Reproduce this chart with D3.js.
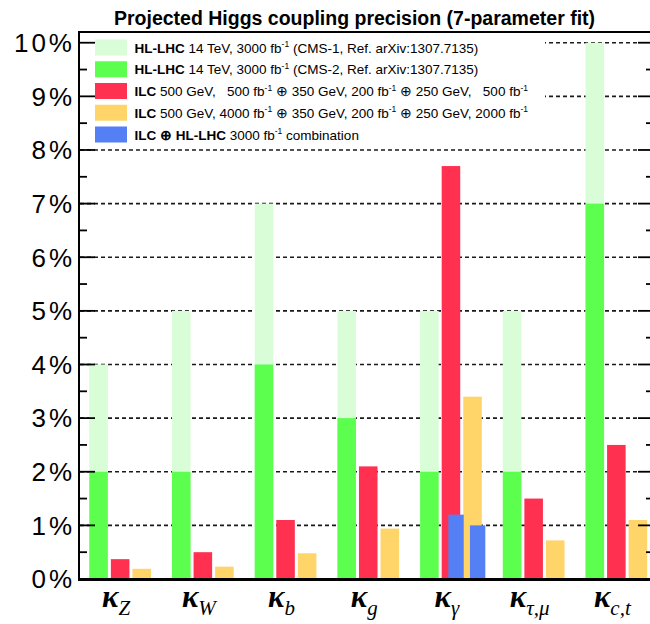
<!DOCTYPE html>
<html>
<head>
<meta charset="utf-8">
<script src="https://cdn.jsdelivr.net/npm/d3@7"></script>
<style>
  html, body { margin: 0; padding: 0; background: #fff; }
  svg { display: block; }
  text { font-family: "Liberation Sans", Arial, Helvetica, sans-serif; }
</style>
</head>
<body>
<svg id="chart" width="650" height="624"></svg>
<script>
// ---------------- data ----------------
const categories = ["kZ", "kW", "kb", "kg", "kgamma", "ktaumu", "kct"];
const labelSubs  = ["Z", "W", "b", "g", "γ", "τ,μ", "c,t"];
const hlLhcCms1  = [4, 5, 7, 5, 5, 5, 10];
const hlLhcCms2  = [2, 2, 4, 3, 2, 2, 7];
const ilcBase    = [0.37, 0.50, 1.10, 2.10, 7.70, 1.50, 2.50];
const ilcUp      = [0.19, 0.23, 0.48, 0.94, 3.40, 0.72, 1.10];
const comboBase  = [null, null, null, null, 1.20, null, null];
const comboUp    = [null, null, null, null, 1.00, null, null];
const yTicks     = [0, 1, 2, 3, 4, 5, 6, 7, 8, 9, 10];
const titleText  = "Projected Higgs coupling precision (7-parameter fit)";
const legendLabels = [
  "**HL-LHC** 14 TeV, 3000 fb^-1 (CMS-1, Ref. arXiv:1307.7135)",
  "**HL-LHC** 14 TeV, 3000 fb^-1 (CMS-2, Ref. arXiv:1307.7135)",
  "**ILC** 500 GeV,   500 fb^-1 ⊕ 350 GeV, 200 fb^-1 ⊕ 250 GeV,   500 fb^-1",
  "**ILC** 500 GeV, 4000 fb^-1 ⊕ 350 GeV, 200 fb^-1 ⊕ 250 GeV, 2000 fb^-1",
  "**ILC ⊕ HL-LHC** 3000 fb^-1 combination"
];
const colors = {
  cms1: "#d9fdd6",
  cms2: "#5dff4f",
  ilc1: "#ff3050",
  ilc2: "#ffd56a",
  combo: "#5580f5"
};

// ---------------- layout ----------------
const svg = d3.select("#chart");
const axisLeft = 79, axisRight = 650, yBottom = 579, yTopFrame = 32;

const y = d3.scaleLinear().domain([0, 10.2]).range([yBottom, yTopFrame]);
const x = d3.scaleBand().domain(categories).range([89.3, 647.2]).paddingInner(0.254).paddingOuter(0);
const slots = ["cms", "ilc1", "ilc2"];
const xi = d3.scaleBand().domain(slots).range([0, x.bandwidth()]).paddingInner(0.14);

// title
svg.append("text")
  .attr("x", 354.5).attr("y", 25)
  .attr("text-anchor", "middle")
  .style("font-size", "19.5px").style("font-weight", "bold")
  .text(titleText);

// grid lines (dashed)
svg.append("g").selectAll("line")
  .data(yTicks.filter(d => d > 0))
  .join("line")
  .attr("x1", axisLeft + 1).attr("x2", 637)
  .attr("y1", d => y(d)).attr("y2", d => y(d))
  .attr("stroke", "#1a1a1a").attr("stroke-width", 1.6)
  .attr("stroke-dasharray", "4,3");

// legend background
const legG = svg.append("g");
legG.append("rect").attr("x", axisLeft + 1).attr("y", yTopFrame + 1)
  .attr("width", 465).attr("height", 114).attr("fill", "#fff");

// bars
const rows = categories.map((c, i) => ({
  c, cms1: hlLhcCms1[i], cms2: hlLhcCms2[i], ilc1: ilcBase[i], ilc2: ilcUp[i],
  comboBase: comboBase[i], comboUp: comboUp[i]
}));
const barsG = svg.append("g");
function drawBars(key, slot, color) {
  barsG.append("g").selectAll("rect")
    .data(rows.filter(r => r[key] != null))
    .join("rect")
    .attr("x", r => x(r.c) + xi(slot))
    .attr("width", xi.bandwidth())
    .attr("y", r => y(r[key]))
    .attr("height", r => y(0) - y(r[key]))
    .attr("fill", color);
}
drawBars("cms1", "cms", colors.cms1);
drawBars("cms2", "cms", colors.cms2);
drawBars("ilc1", "ilc1", colors.ilc1);
drawBars("ilc2", "ilc2", colors.ilc2);
function drawCombo(key, slot) {
  barsG.append("g").selectAll("rect")
    .data(rows.filter(r => r[key] != null))
    .join("rect")
    .attr("x", r => x(r.c) + xi(slot) + xi.bandwidth() * 0.36)
    .attr("width", xi.bandwidth() * 0.83)
    .attr("y", r => y(r[key]))
    .attr("height", r => y(0) - y(r[key]))
    .attr("fill", colors.combo);
}
drawCombo("comboBase", "ilc1");
drawCombo("comboUp", "ilc2");

// legend entries
const legendColors = [colors.cms1, colors.cms2, colors.ilc1, colors.ilc2, colors.combo];
legendLabels.forEach((lab, i) => {
  const cy = 47.5 + i * 21.75;
  legG.append("rect").attr("x", 95).attr("y", cy - 8).attr("width", 32).attr("height", 16)
    .attr("fill", legendColors[i]);
  const t = legG.append("text").attr("x", 134.5).attr("y", cy + 5)
    .style("font-size", "13.5px").style("white-space", "pre");
  // parse **bold** and ^-1 superscripts
  const parts = lab.split(/(\*\*[^*]+\*\*|\^-1)/).filter(s => s.length);
  let pendingDy = 0;
  parts.forEach(p => {
    let ts;
    if (p.startsWith("**")) {
      ts = t.append("tspan").style("font-weight", "bold").text(p.slice(2, -2));
    } else if (p === "^-1") {
      ts = t.append("tspan").style("font-size", "8.5px").text("-1");
      ts.attr("dy", pendingDy - 5.5);
      pendingDy = 5.5;
      return;
    } else {
      ts = t.append("tspan").text(p);
    }
    if (pendingDy) { ts.attr("dy", pendingDy); pendingDy = 0; }
  });
});

// frame / axes
svg.append("line").attr("x1", axisLeft - 1).attr("x2", axisRight)
  .attr("y1", yTopFrame).attr("y2", yTopFrame)
  .attr("stroke", "#000").attr("stroke-width", 2);
svg.append("line").attr("x1", axisLeft).attr("x2", axisLeft)
  .attr("y1", yTopFrame - 1).attr("y2", yBottom + 1)
  .attr("stroke", "#000").attr("stroke-width", 2);
svg.append("line").attr("x1", axisLeft - 1).attr("x2", axisRight)
  .attr("y1", yBottom + 0.5).attr("y2", yBottom + 0.5)
  .attr("stroke", "#000").attr("stroke-width", 3);

// ticks
const minor = d3.range(0.5, 10.2, 1);
const tickG = svg.append("g").attr("stroke", "#000").attr("stroke-width", 1.8);
tickG.selectAll(".maj").data(yTicks.filter(d => d > 0)).join("line")
  .attr("x1", axisLeft).attr("x2", axisLeft + 16)
  .attr("y1", d => y(d)).attr("y2", d => y(d));
tickG.selectAll(".min").data(minor).join("line")
  .attr("x1", axisLeft).attr("x2", axisLeft + 8)
  .attr("y1", d => y(d)).attr("y2", d => y(d));
tickG.selectAll(".rmaj").data(yTicks.filter(d => d > 0)).join("line")
  .attr("x1", 638).attr("x2", axisRight)
  .attr("y1", d => y(d)).attr("y2", d => y(d));
tickG.selectAll(".rmin").data(minor).join("line")
  .attr("x1", 646).attr("x2", axisRight)
  .attr("y1", d => y(d)).attr("y2", d => y(d));

// y tick labels
svg.append("g").selectAll("text").data(yTicks).join("text")
  .attr("x", 75).attr("y", d => y(d) + 9.3)
  .attr("text-anchor", "end")
  .style("font-size", "26px").style("letter-spacing", "3px")
  .text(d => d + "%");

// x labels
const xl = svg.append("g").selectAll("text").data(categories).join("text")
  .attr("x", (c) => x(c) + x.bandwidth() / 2 - 4)
  .attr("y", 607)
  .attr("text-anchor", "middle")
  .style("font-family", "'Liberation Serif', 'DejaVu Serif', serif");
xl.append("tspan").style("font-size", "31px").style("font-weight", "bold").style("font-style", "italic").text("κ");
xl.append("tspan").attr("dy", 8).style("font-size", "21px").style("font-style", "italic")
  .text((c, i) => labelSubs[i]);
</script>
</body>
</html>
